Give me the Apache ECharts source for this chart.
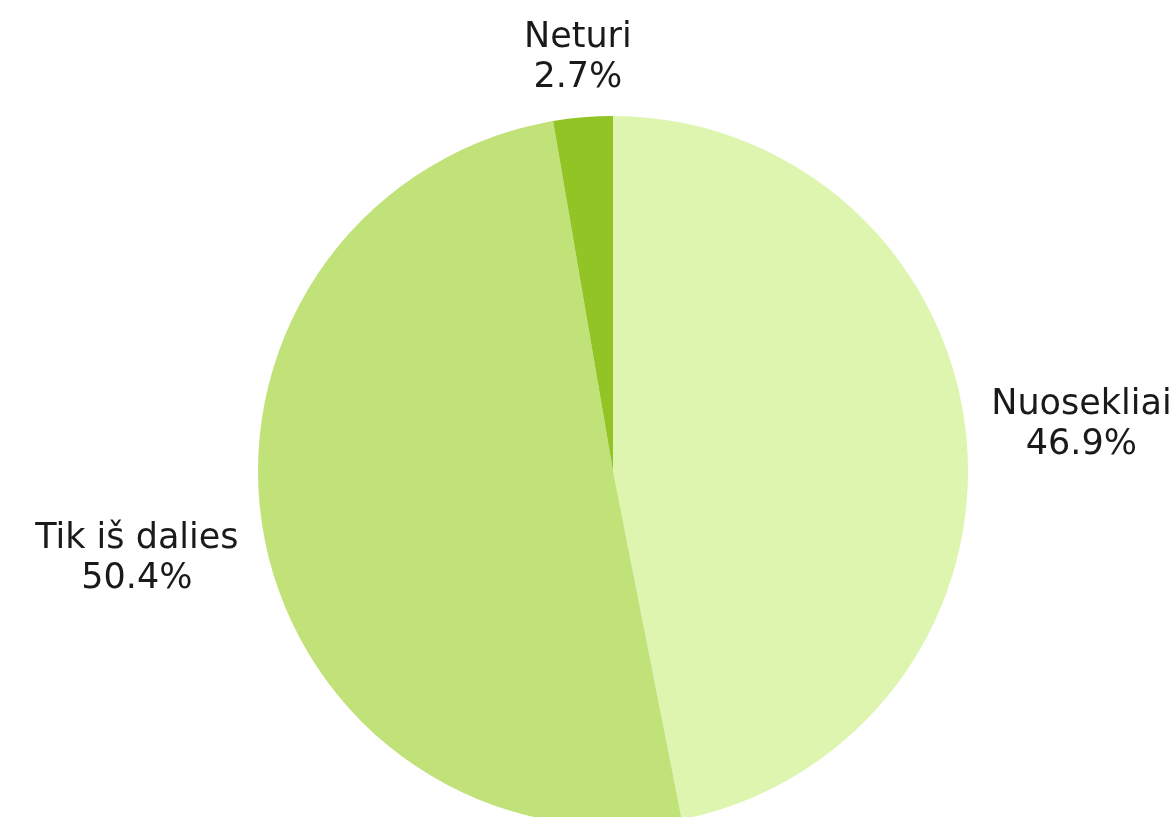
<!DOCTYPE html>
<html>
<head>
<meta charset="utf-8">
<script src="https://cdn.jsdelivr.net/npm/echarts@6/dist/echarts.min.js"></script>
<style>
html,body{margin:0;padding:0;background:#fff;}
#chart{width:1176px;height:817px;}
</style>
</head>
<body>
<div id="chart"></div>
<script>
const categories = ['Nuosekliai', 'Tik iš dalies', 'Neturi'];
const values = [46.9, 50.4, 2.7];
const sliceColors = ['#DDF5AF', '#C0E278', '#93C425'];

const CX = 613, CY = 471, R = 355, GAP = 15, HPAD = 7;
const total = values.reduce((a, b) => a + b, 0);

const chart = echarts.init(document.getElementById('chart'), null, {renderer: 'canvas'});
chart.setOption({
  animation: false,
  backgroundColor: '#ffffff',
  series: [{
    type: 'pie',
    center: [CX, CY],
    radius: [0, R],
    startAngle: 90,
    clockwise: true,
    avoidLabelOverlap: false,
    data: categories.map((c, i) => ({name: c, value: values[i], itemStyle: {color: sliceColors[i]}})),
    itemStyle: {borderWidth: 0},
    emphasis: {disabled: true},
    label: {
      show: true,
      position: 'outside',
      fontFamily: 'DejaVu Sans, Verdana, sans-serif',
      fontSize: 35,
      lineHeight: 40,
      color: '#1a1a1a',
      formatter: p => p.name + '\n' + values[p.dataIndex].toFixed(1) + '%'
    },
    labelLine: {show: false},
    labelLayout: function (params) {
      const i = params.dataIndex;
      let cum = 0;
      for (let k = 0; k < i; k++) cum += values[k];
      cum += values[i] / 2;
      const ang = (90 - cum / total * 360) * Math.PI / 180;
      const dx = Math.cos(ang), dy = -Math.sin(ang);
      const w = params.labelRect.width, h = params.labelRect.height;
      const D = R + GAP + Math.abs(dx) * (w / 2 + HPAD) + Math.abs(dy) * h / 2;
      return {
        x: CX + dx * D,
        y: CY + dy * D,
        align: 'center',
        verticalAlign: 'middle'
      };
    }
  }]
});
</script>
</body>
</html>
